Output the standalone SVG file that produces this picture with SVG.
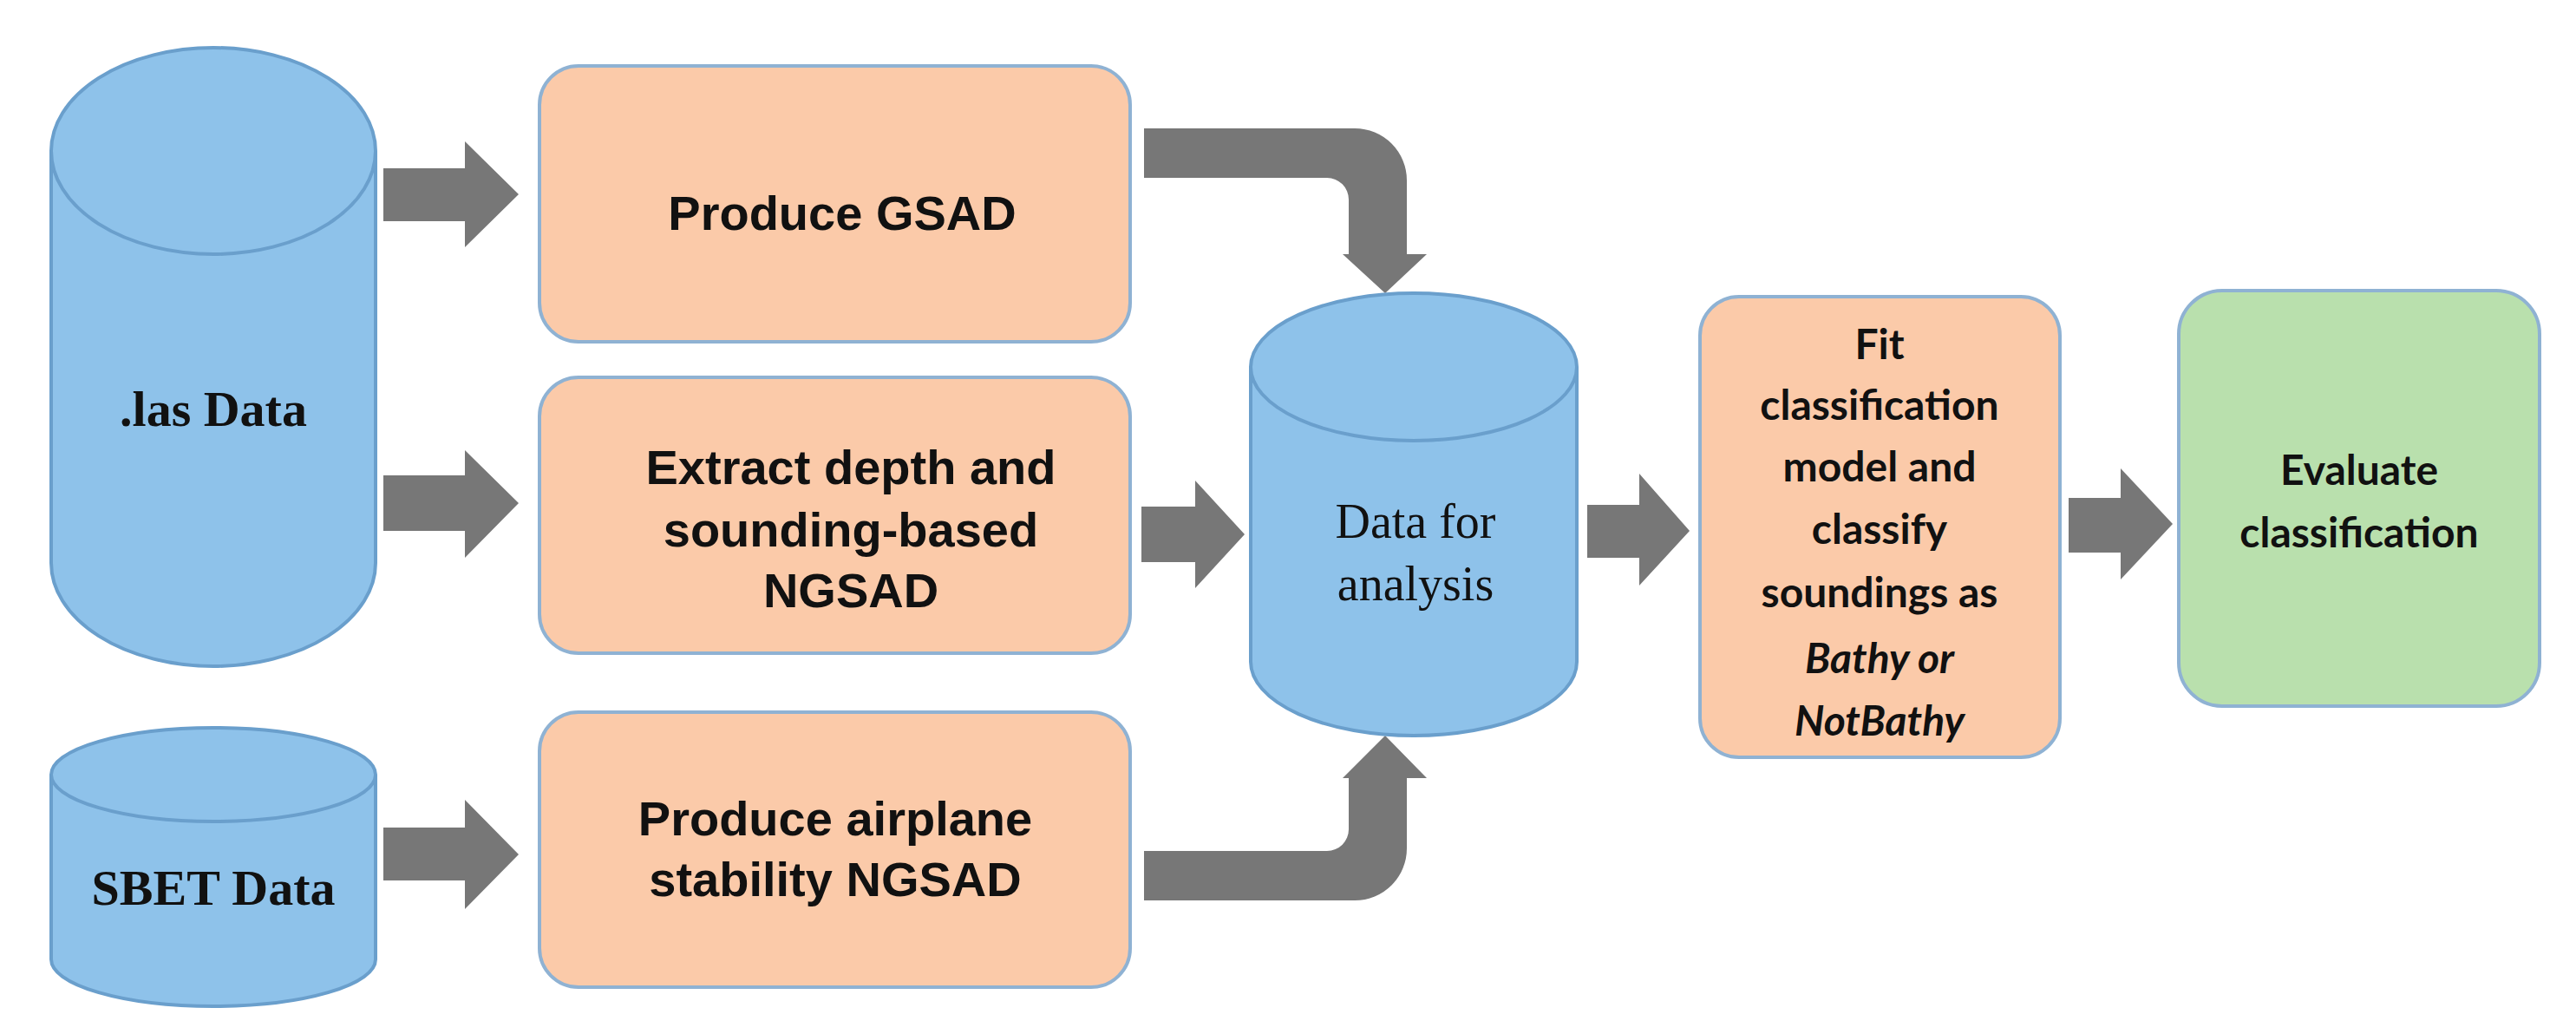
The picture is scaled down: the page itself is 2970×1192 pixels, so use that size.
<svg xmlns="http://www.w3.org/2000/svg" width="2970" height="1192" viewBox="0 0 2970 1192">
<style>
.cyl{fill:#8ec2ea;stroke:#6a9fcc;stroke-width:4}
.box{fill:#fbcaa9;stroke:#8fb2d3;stroke-width:4}
.gbox{fill:#b9e0ad;stroke:#8fb2d3;stroke-width:4}
.arr{fill:#777777}
.ser{font-family:"Liberation Serif",serif;font-weight:bold;font-size:58px;fill:#111;text-anchor:middle;dominant-baseline:central}
.sans{font-family:"Liberation Sans",Arial,sans-serif;font-weight:bold;font-size:56px;fill:#111;text-anchor:middle;dominant-baseline:central}
.cal{font-family:Lato,"Open Sans",sans-serif;font-weight:bold;font-size:48px;fill:#111;text-anchor:middle;dominant-baseline:central}
</style>
<rect width="2970" height="1192" fill="#ffffff"/>
<g id="connectors">
<path class="arr" d="M442,194 H536 V163 L598,224 L536,285 V255 H442 Z"/>
<path class="arr" d="M442,548 H536 V519 L598,580 L536,643 V612 H442 Z"/>
<path class="arr" d="M442,954 H536 V922 L598,985 L536,1048 V1015 H442 Z"/>
<path class="arr" d="M1316,584 H1378 V554 L1435,616 L1378,678 V648 H1316 Z"/>
<path class="arr" d="M1830,582 H1890 V546 L1948,612 L1890,675 V643 H1830 Z"/>
<path class="arr" d="M2385,574 H2445 V540 L2505,604 L2445,668 V637 H2385 Z"/>
<path class="arr" d="M1319,148 H1562 A60,60 0 0 1 1622,208 V293 H1645 L1597,338 L1548,293 H1555 V230 A25,25 0 0 0 1530,205 H1319 Z"/>
<path class="arr" d="M1319,1038 H1562 A60,60 0 0 0 1622,978 V897 H1645 L1597,848 L1548,897 H1555 V956 A25,25 0 0 1 1530,981 H1319 Z"/>
</g>
<g id="las">
<path class="cyl" d="M59,174 A187,119 0 0 1 433,174 V649 A187,119 0 0 1 59,649 Z"/>
<path class="cyl" d="M59,174 A187,119 0 0 0 433,174" fill="none"/>
<text class="ser" x="246" y="471">.las Data</text>
</g>
<g id="sbet">
<path class="cyl" d="M59,893 A187,54 0 0 1 433,893 V1106 A187,54 0 0 1 59,1106 Z"/>
<path class="cyl" d="M59,893 A187,54 0 0 0 433,893" fill="none"/>
<text class="ser" x="246" y="1023">SBET Data</text>
</g>
<g id="gsad">
<rect class="box" x="622" y="76" width="681" height="318" rx="45"/>
<text class="sans" x="971" y="245">Produce GSAD</text>
</g>
<g id="extract">
<rect class="box" x="622" y="435" width="681" height="318" rx="45"/>
<text class="sans" x="981" y="538">Extract depth and</text>
<text class="sans" x="981" y="610">sounding-based</text>
<text class="sans" x="981" y="680">NGSAD</text>
</g>
<g id="airplane">
<rect class="box" x="622" y="821" width="681" height="317" rx="45"/>
<text class="sans" x="963" y="943">Produce airplane</text>
<text class="sans" x="963" y="1013">stability NGSAD</text>
</g>
<g id="data">
<path class="cyl" d="M1442,423 A188,85 0 0 1 1818,423 V763 A188,85 0 0 1 1442,763 Z"/>
<path class="cyl" d="M1442,423 A188,85 0 0 0 1818,423" fill="none"/>
<text class="ser" x="1632" y="601" style="font-weight:normal;font-size:56px">Data for</text>
<text class="ser" x="1632" y="673" style="font-weight:normal;font-size:56px">analysis</text>
</g>
<g id="fit">
<rect class="box" x="1960" y="342" width="415" height="531" rx="45"/>
<text class="cal" x="2167" y="395">Fit</text>
<text class="cal" x="2167" y="465">classification</text>
<text class="cal" x="2167" y="536">model and</text>
<text class="cal" x="2167" y="608">classify</text>
<text class="cal" x="2167" y="681">soundings as</text>
<text class="cal" x="2167" y="757" font-style="italic">Bathy or</text>
<text class="cal" x="2167" y="829" font-style="italic">NotBathy</text>
</g>
<g id="evaluate">
<rect class="gbox" x="2512" y="335" width="416" height="479" rx="50"/>
<text class="cal" x="2720" y="540">Evaluate</text>
<text class="cal" x="2720" y="612">classification</text>
</g>
</svg>
